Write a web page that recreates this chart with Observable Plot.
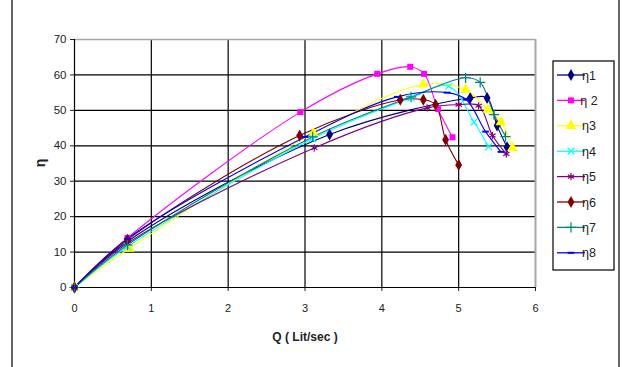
<!DOCTYPE html>
<html>
<head>
<meta charset="utf-8">
<script src="https://cdn.jsdelivr.net/npm/d3@7"></script>
<script src="https://cdn.jsdelivr.net/npm/@observablehq/plot@0.6"></script>
<style>
  html, body { margin: 0; padding: 0; background: #fff; }
  #chart { position: relative; width: 622px; height: 367px; overflow: hidden; }
  svg { font-family: "Liberation Sans", Arial, sans-serif; }
</style>
</head>
<body>
<div id="chart"></div>
<script>
// ---- data ----
const seriesNames = ["η1", "η 2", "η3", "η4", "η5", "η6", "η7", "η8"];
const seriesColors = ["#000080", "#ff00ff", "#ffff00", "#00ffff", "#800080", "#800000", "#008080", "#0000ff"];

const Q1 = [0, 0.69, 3.32, 5.15, 5.37, 5.50, 5.63];
const E1 = [0, 13.0, 43.2, 53.5, 53.5, 45.7, 39.6];
const Q2 = [0, 0.69, 2.94, 3.94, 4.37, 4.55, 4.73, 4.92];
const E2 = [0, 14.0, 49.5, 60.3, 62.3, 60.3, 50.4, 42.4];
const Q3 = [0, 0.71, 3.11, 4.54, 5.09, 5.38, 5.55, 5.70];
const E3 = [0, 11.0, 43.5, 57.3, 55.8, 50.2, 46.7, 39.4];
const Q4 = [0, 0.69, 3.10, 4.38, 4.87, 5.20, 5.39];
const E4 = [0, 11.5, 42.0, 53.5, 56.8, 46.7, 39.7];
const Q5 = [0, 0.69, 3.12, 4.59, 5.00, 5.26, 5.44, 5.62];
const E5 = [0, 12.5, 39.4, 50.7, 51.6, 51.3, 42.9, 37.7];
const Q6 = [0, 0.69, 2.93, 4.24, 4.54, 4.70, 4.83, 5.00];
const E6 = [0, 13.5, 42.9, 53.0, 53.0, 51.6, 41.7, 34.6];
const Q7 = [0, 0.69, 3.10, 4.38, 5.09, 5.28, 5.46, 5.61];
const E7 = [0, 12.0, 42.5, 53.8, 59.2, 57.9, 48.8, 42.6];
const Q8 = [0, 0.69, 3.00, 4.20, 4.85, 5.10, 5.35, 5.55];
const E8 = [0, 13.8, 42.5, 53.8, 55.0, 53.0, 44.0, 38.3];

const xTicks = [0, 1, 2, 3, 4, 5, 6];
const yTicks = [0, 10, 20, 30, 40, 50, 60, 70];
const xLabel = "Q ( Lit/sec )";
const yLabel = "η";

// ---- build table ----
const Qs = [Q1, Q2, Q3, Q4, Q5, Q6, Q7, Q8];
const Es = [E1, E2, E3, E4, E5, E6, E7, E8];
const rows = [];
Qs.forEach((qa, i) => qa.forEach((q, j) => rows.push({s: seriesNames[i], Q: q, E: Es[i][j]})));

const dash = {draw(ctx, size) { const w = Math.sqrt(size) * 0.55; ctx.moveTo(-w, 0); ctx.lineTo(w, 0); }};
const markerStyle = [
  {symbol: "diamond", fill: true, r: 3.6},
  {symbol: "square", fill: true, r: 3.4},
  {symbol: "triangle", fill: true, r: 4.0},
  {symbol: "times", fill: false, r: 3.2},
  {symbol: "asterisk", fill: false, r: 3.4},
  {symbol: "diamond", fill: true, r: 3.6},
  {symbol: "plus", fill: false, r: 3.4},
  {symbol: dash, fill: false, r: 3.4}
];

const dotMarks = seriesNames.map((name, i) => {
  const m = markerStyle[i];
  const opts = {x: "Q", y: "E", symbol: () => m.symbol, r: m.r,
    filter: d => d.s === name};
  if (m.fill) { opts.fill = seriesColors[i]; opts.stroke = "none"; }
  else { opts.fill = "none"; opts.stroke = seriesColors[i]; opts.strokeWidth = i === 7 ? 2 : 1.2; }
  return Plot.dot(rows, opts);
});

const chart = Plot.plot({
  width: 622,
  height: 367,
  marginLeft: 74,
  marginRight: 87,
  marginTop: 39,
  marginBottom: 80,
  style: {fontFamily: "'Liberation Sans', Arial, sans-serif", fontSize: "11px", color: "#222", background: "#fff"},
  x: {domain: [0, 6]},
  y: {domain: [0, 70]},
  color: {domain: seriesNames, range: seriesColors},
  symbol: {domain: ["a"], range: ["circle"]},
  marks: [
    Plot.ruleY(yTicks.filter(t => t > 0 && t < 70), {stroke: "#000", strokeWidth: 1.2}),
    Plot.ruleX(xTicks.filter(t => t > 0 && t < 6), {stroke: "#000", strokeWidth: 1.2}),
    Plot.ruleY([70], {stroke: "#a6a6a6", strokeWidth: 1.5}),
    Plot.ruleX([6], {stroke: "#a6a6a6", strokeWidth: 2}),
    Plot.axisX({ticks: xTicks, tickSize: 4, tickPadding: 13, tickFormat: d => String(d), label: null, fill: "#222"}),
    Plot.axisY({ticks: yTicks, tickSize: 4, tickPadding: 4, tickFormat: d => String(d), label: null, fill: "#222", fontSize: 11.5}),
    Plot.ruleY([0], {stroke: "#000", strokeWidth: 1.2}),
    Plot.ruleX([0], {stroke: "#000", strokeWidth: 1.2}),
    Plot.line(rows, {x: "Q", y: "E", z: "s", stroke: "s", curve: "catmull-rom", strokeWidth: 1.1}),
    ...dotMarks
  ]
});

document.getElementById("chart").appendChild(chart);

// ---- extra decoration: frame, axis titles, legend ----
const svg = d3.select(chart);
svg.append("rect").attr("x", 12).attr("y", -2).attr("width", 607).attr("height", 372)
  .attr("fill", "none").attr("stroke", "#000").attr("stroke-width", 1.2);

svg.append("text").attr("x", 305).attr("y", 341).attr("text-anchor", "middle")
  .attr("font-weight", "bold").attr("font-size", 12).attr("fill", "#222").text(xLabel);
svg.append("text").attr("transform", "translate(45,163) rotate(-90)").attr("text-anchor", "middle")
  .attr("font-weight", "bold").attr("font-size", 14).attr("fill", "#222").text(yLabel);

const lg = svg.append("g");
lg.append("rect").attr("x", 553).attr("y", 61).attr("width", 61).attr("height", 209)
  .attr("fill", "#fff").attr("stroke", "#000").attr("stroke-width", 1.2);
const symGen = (t, r) => d3.symbol().type(t).size(r * r * Math.PI)();
const d3Syms = {diamond: d3.symbolDiamond, square: d3.symbolSquare, triangle: d3.symbolTriangle,
  times: d3.symbolTimes, asterisk: d3.symbolAsterisk, plus: d3.symbolPlus};
seriesNames.forEach((name, i) => {
  const cy = 75 + i * 25.4;
  const g = lg.append("g");
  g.append("line").attr("x1", 557).attr("x2", 585).attr("y1", cy).attr("y2", cy)
    .attr("stroke", seriesColors[i]).attr("stroke-width", 1.3);
  const m = markerStyle[i];
  const t = typeof m.symbol === "string" ? d3Syms[m.symbol] : m.symbol;
  const p = g.append("path").attr("transform", `translate(571,${cy})`).attr("d", symGen(t, m.r));
  if (m.fill) p.attr("fill", seriesColors[i]);
  else p.attr("fill", "none").attr("stroke", seriesColors[i]).attr("stroke-width", i === 7 ? 2 : 1.2);
  g.append("text").attr("x", 589).attr("y", cy + 4.5).attr("font-size", 12.5).attr("fill", "#222").text(name);
});
</script>
</body>
</html>
